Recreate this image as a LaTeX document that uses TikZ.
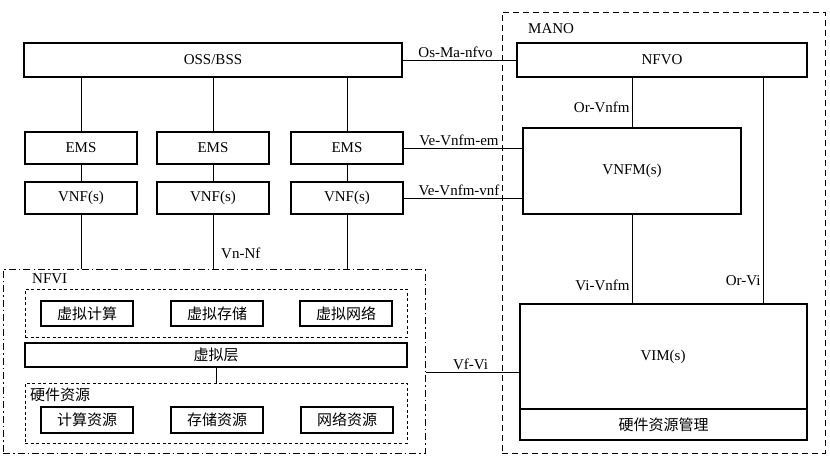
\documentclass[tikz,border=0pt]{standalone}
\usepackage{fontspec}
\setmainfont{Liberation Serif}
\newfontfamily\cjk{Noto Sans CJK SC}
\usetikzlibrary{positioning,calc}

\begin{document}
\begin{tikzpicture}[x=1pt, y=-1pt, font=\fontsize{15}{17}\selectfont,
    box/.style={draw, line width=1.1pt, inner sep=1pt, fill=white},
    cnbox/.style={box, font=\fontsize{15}{17}\selectfont\cjk},
    manobox/.style={draw, line width=1pt, dash pattern=on 6pt off 4pt},
    nfvibox/.style={draw, line width=1pt, dash pattern=on 7pt off 3pt on 1.5pt off 3pt},
    groupbox/.style={draw, line width=0.9pt, dash pattern=on 3pt off 2.5pt},
    link/.style={line width=1pt},
    iface/.style={inner sep=2pt}]

    \useasboundingbox (0,0) rectangle (830,461);

    % dashed frames
    \node[manobox, minimum width=323pt, minimum height=441pt] (MANO) at (663.5,232.5) {};
    \node[nfvibox, minimum width=422pt, minimum height=184pt] (NFVI) at (214,361) {};
    \node[groupbox, minimum width=382pt, minimum height=48pt] (VirtBox) at (216,313) {};
    \node[groupbox, minimum width=382pt, minimum height=60pt] (HWBox) at (216,413) {};

    \node[anchor=west, inner sep=0pt] (MANOLabel) at (528,29) {MANO};
    \node[anchor=west, inner sep=0pt] (NFVILabel) at (32,279) {NFVI};
    \node[anchor=west, inner sep=0pt, font=\fontsize{15}{17}\selectfont\cjk] (HWLabel) at (30,395) {硬件资源};

    % left side
    \node[box, minimum width=378pt, minimum height=34pt] (OSS) at (213,60) {OSS/BSS};
    \foreach \i/\x in {1/81, 2/213, 3/347} {
        \node[box, minimum width=112pt, minimum height=32pt] (EMS\i) at (\x,148) {EMS};
        \node[box, minimum width=112pt, minimum height=32pt] (VNF\i) at (\x,198) {VNF(s)};
    }

    % NFVI
    \node[cnbox, minimum width=92pt, minimum height=25pt] (VCompute) at (87,313.5) {虚拟计算};
    \node[cnbox, minimum width=92pt, minimum height=25pt] (VStorage) at (217,313.5) {虚拟存储};
    \node[cnbox, minimum width=92pt, minimum height=25pt] (VNetwork) at (346,313.5) {虚拟网络};
    \node[cnbox, minimum width=382pt, minimum height=24pt] (VLayer) at (216,355) {虚拟层};
    \node[cnbox, minimum width=92pt, minimum height=26pt] (Compute) at (87,420) {计算资源};
    \node[cnbox, minimum width=92pt, minimum height=26pt] (Storage) at (217,420) {存储资源};
    \node[cnbox, minimum width=92pt, minimum height=26pt] (Network) at (347,420) {网络资源};

    % MANO
    \node[box, minimum width=290pt, minimum height=34pt] (NFVO) at (662,60) {NFVO};
    \node[box, minimum width=218pt, minimum height=86pt] (VNFM) at (632,171) {VNFM(s)};
    \node[box, minimum width=287pt, minimum height=136pt] (VIM) at (663.5,372) {};
    \node[inner sep=0pt] (VIMText) at (663,357) {VIM(s)};
    \node[cnbox, anchor=south, minimum width=287pt, minimum height=31pt] (HRM) at (VIM.south) {硬件资源管理};

    % connectors
    \foreach \i in {1,2,3} {
        \draw[link] (EMS\i.north |- OSS.south) -- (EMS\i.north);
        \draw[link] (EMS\i.south) -- (VNF\i.north);
        \draw[link] (VNF\i.south) -- (VNF\i.south |- NFVI.north);
    }
    \draw[link] (VLayer.south) -- (VLayer.south |- HWBox.north);
    \node[iface, anchor=west] (VnNf) at (219,253) {Vn-Nf};

    \draw[link] (OSS.east) -- node[iface, above, xshift=-4pt] {Os-Ma-nfvo} (NFVO.west);
    \draw[link] (EMS3.east) -- node[iface, above, xshift=-4pt] {Ve-Vnfm-em} (EMS3.east -| VNFM.west);
    \draw[link] (VNF3.east) -- node[iface, above, xshift=-4pt] {Ve-Vnfm-vnf} (VNF3.east -| VNFM.west);
    \draw[link] (VNFM.north |- NFVO.south) -- node[iface, left, pos=0.6] {Or-Vnfm} (VNFM.north);
    \draw[link] (VNFM.south) -- node[iface, left, pos=0.8] {Vi-Vnfm} (VNFM.south |- VIM.north);
    \draw[link] (763,0 |- NFVO.south) -- node[iface, left, pos=0.9] {Or-Vi} (763,0 |- VIM.north);
    \draw[link] (NFVI.east |- VIM.west) -- node[iface, above, xshift=-2pt] {Vf-Vi} (VIM.west);

\end{tikzpicture}
\end{document}
